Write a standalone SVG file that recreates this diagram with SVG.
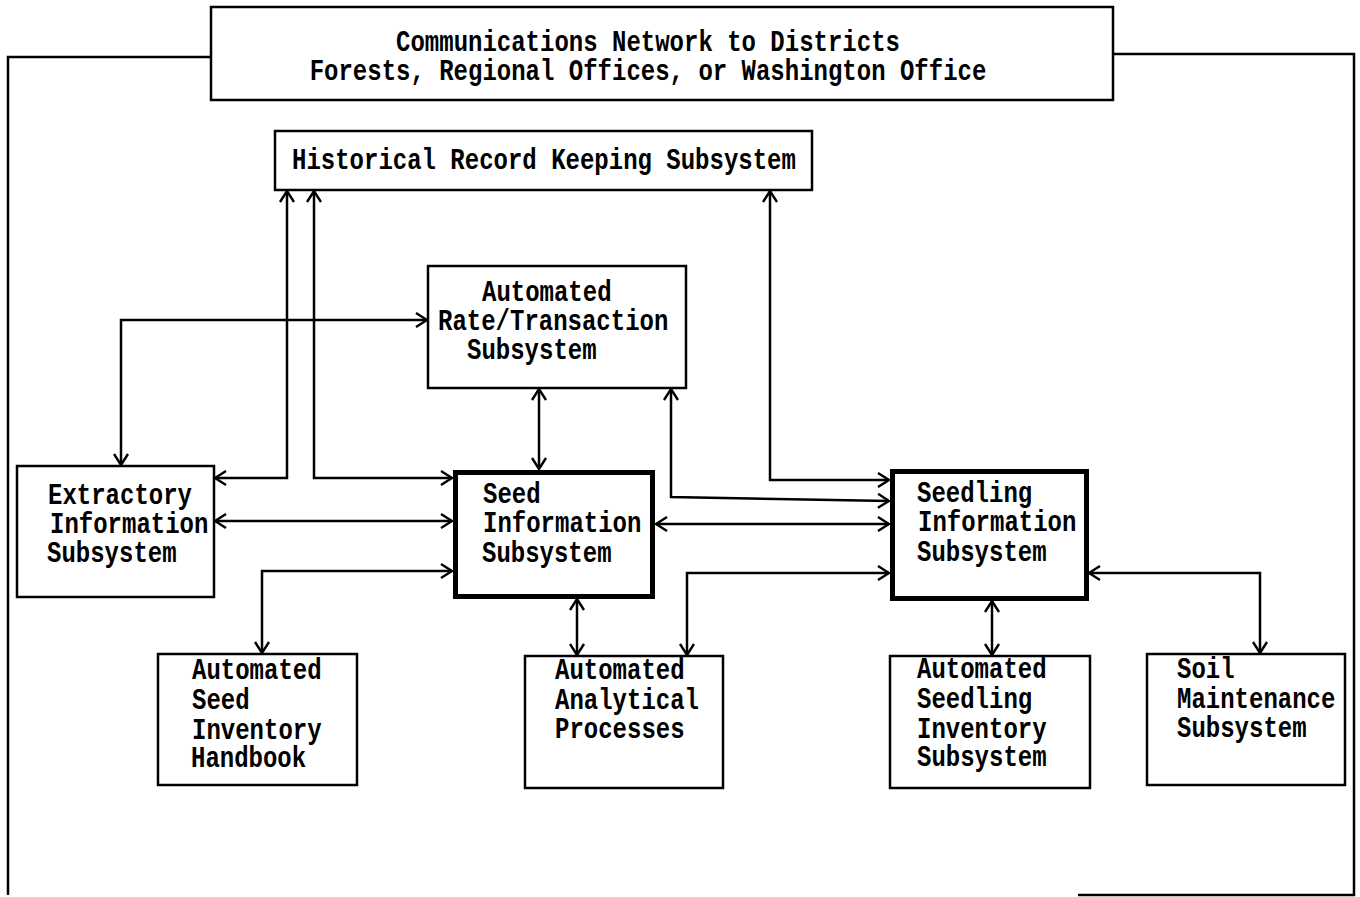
<svg xmlns="http://www.w3.org/2000/svg" width="1360" height="897" viewBox="0 0 1360 897">
<style>
.box{fill:#fff;stroke:#000;stroke-width:2.5}
.thick{fill:#fff;stroke:#000;stroke-width:5}
.t{font-family:"Liberation Mono","DejaVu Sans Mono",monospace;font-weight:bold;font-size:24px;fill:#000}
.c{fill:none;stroke:#000;stroke-width:2.5;marker-start:url(#ah);marker-end:url(#ah)}
.f{fill:none;stroke:#000;stroke-width:2.5}
</style>
<defs>
<marker id="ah" viewBox="0 0 13 16" refX="12" refY="8" markerWidth="13" markerHeight="16" markerUnits="userSpaceOnUse" orient="auto-start-reverse">
<path d="M1,1 L12,8 L1,15" fill="none" stroke="#000" stroke-width="2.4"/>
</marker>
</defs>
<rect width="1360" height="897" fill="#fff"/>
<g id="frame">
<path class="f" d="M211,57 H8 V895"/>
<path class="f" d="M1113,54 H1354 V895 H1078"/>
</g>
<g id="connectors">
<path class="c" d="M215,478 H287 V191"/>
<path class="c" d="M314,191 V478 H452"/>
<path class="c" d="M121,465 V320 H427"/>
<path class="c" d="M215,521 H452"/>
<path class="c" d="M262,653 V571 H452"/>
<path class="c" d="M539,389 V469"/>
<path class="c" d="M577,599 V655"/>
<path class="c" d="M656,524 H889"/>
<path class="c" d="M671,389 V497 L889,501"/>
<path class="c" d="M770,191 V480 H889"/>
<path class="c" d="M687,655 V573 H889"/>
<path class="c" d="M992,601 V655"/>
<path class="c" d="M1089,573 H1260 V653"/>
</g>
<g id="comm">
<rect class="box" x="211" y="7" width="902" height="93"/>
<text class="t" x="648" y="51" text-anchor="middle" transform="matrix(1,0,0,1.2,0,-10.2)">Communications Network to Districts</text>
<text class="t" x="648" y="80" text-anchor="middle" transform="matrix(1,0,0,1.2,0,-16)">Forests, Regional Offices, or Washington Office</text>
</g>
<g id="historical">
<rect class="box" x="275" y="131" width="537" height="59"/>
<text class="t" x="292" y="169" transform="matrix(1,0,0,1.2,0,-33.8)">Historical Record Keeping Subsystem</text>
</g>
<g id="rate">
<rect class="box" x="428" y="266" width="258" height="122"/>
<text class="t" x="482" y="301" transform="matrix(1,0,0,1.2,0,-60.2)">Automated</text>
<text class="t" x="438" y="330" transform="matrix(1,0,0,1.2,0,-66)">Rate/Transaction</text>
<text class="t" x="467" y="359" transform="matrix(1,0,0,1.2,0,-71.8)">Subsystem</text>
</g>
<g id="extractory">
<rect class="box" x="17" y="466" width="197" height="131"/>
<text class="t" x="48" y="504" transform="matrix(1,0,0,1.2,0,-100.8)">Extractory</text>
<text class="t" x="50" y="533" transform="matrix(1,0,0,1.2,0,-106.6)">Information</text>
<text class="t" x="47" y="562" transform="matrix(1,0,0,1.2,0,-112.4)">Subsystem</text>
</g>
<g id="seed">
<rect class="thick" x="455.5" y="472.5" width="197" height="124"/>
<text class="t" x="483" y="503" transform="matrix(1,0,0,1.2,0,-100.6)">Seed</text>
<text class="t" x="483" y="532" transform="matrix(1,0,0,1.2,0,-106.4)">Information</text>
<text class="t" x="482" y="562" transform="matrix(1,0,0,1.2,0,-112.4)">Subsystem</text>
</g>
<g id="seedling">
<rect class="thick" x="892.5" y="471.5" width="194" height="127"/>
<text class="t" x="917" y="502" transform="matrix(1,0,0,1.2,0,-100.4)">Seedling</text>
<text class="t" x="918" y="531" transform="matrix(1,0,0,1.2,0,-106.2)">Information</text>
<text class="t" x="917" y="561" transform="matrix(1,0,0,1.2,0,-112.2)">Subsystem</text>
</g>
<g id="handbook">
<rect class="box" x="158" y="654" width="199" height="131"/>
<text class="t" x="192" y="679" transform="matrix(1,0,0,1.2,0,-135.8)">Automated</text>
<text class="t" x="192" y="709" transform="matrix(1,0,0,1.2,0,-141.8)">Seed</text>
<text class="t" x="192" y="739" transform="matrix(1,0,0,1.2,0,-147.8)">Inventory</text>
<text class="t" x="191" y="767" transform="matrix(1,0,0,1.2,0,-153.4)">Handbook</text>
</g>
<g id="analytical">
<rect class="box" x="525" y="656" width="198" height="132"/>
<text class="t" x="555" y="679" transform="matrix(1,0,0,1.2,0,-135.8)">Automated</text>
<text class="t" x="555" y="709" transform="matrix(1,0,0,1.2,0,-141.8)">Analytical</text>
<text class="t" x="555" y="738" transform="matrix(1,0,0,1.2,0,-147.6)">Processes</text>
</g>
<g id="seedling-inventory">
<rect class="box" x="890" y="656" width="200" height="132"/>
<text class="t" x="917" y="678" transform="matrix(1,0,0,1.2,0,-135.6)">Automated</text>
<text class="t" x="917" y="708" transform="matrix(1,0,0,1.2,0,-141.6)">Seedling</text>
<text class="t" x="917" y="738" transform="matrix(1,0,0,1.2,0,-147.6)">Inventory</text>
<text class="t" x="917" y="766" transform="matrix(1,0,0,1.2,0,-153.2)">Subsystem</text>
</g>
<g id="soil">
<rect class="box" x="1147" y="654" width="198" height="131"/>
<text class="t" x="1177" y="678" transform="matrix(1,0,0,1.2,0,-135.6)">Soil</text>
<text class="t" x="1177" y="708" transform="matrix(1,0,0,1.2,0,-141.6)">Maintenance</text>
<text class="t" x="1177" y="737" transform="matrix(1,0,0,1.2,0,-147.4)">Subsystem</text>
</g>
</svg>
